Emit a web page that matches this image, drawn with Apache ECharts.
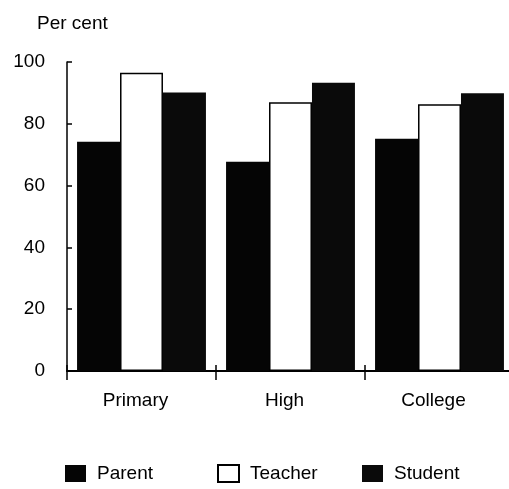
<!DOCTYPE html>
<html>
<head>
<meta charset="utf-8">
<script src="https://cdn.jsdelivr.net/npm/echarts@6/dist/echarts.min.js"></script>
<style>
  html, body { margin: 0; padding: 0; background: #fff; }
  #chart { width: 509px; height: 489px; }
</style>
</head>
<body>
<div id="chart"></div>
<script>
// School levels along the x axis
const categories = ['Primary', 'High', 'College'];
// Share of respondents, per cent
const parentValues = [74.2, 67.7, 75.2];
const teacherValues = [96.5, 87.0, 86.3];
const studentValues = [90.1, 93.3, 89.9];
const yTicks = [0, 20, 40, 60, 80, 100];

const font = 'Liberation Sans, Arial, Helvetica, sans-serif';
const chart = echarts.init(document.getElementById('chart'));

function legendFor(name, left) {
  return {
    data: [{ name: name, icon: 'rect' }],
    left: left,
    top: 459,
    itemWidth: 21,
    itemHeight: 17,
    itemGap: 0,
    textStyle: { fontFamily: font, fontSize: 19, color: '#000', padding: [0, 0, 0, 6] },
    selectedMode: false
  };
}

chart.setOption({
  animation: false,
  backgroundColor: '#fff',
  title: {
    text: 'Per cent',
    left: 32,
    top: 9,
    textStyle: { fontFamily: font, fontSize: 19, fontWeight: 'normal', color: '#000' }
  },
  legend: [
    legendFor('Parent', 60),
    legendFor('Teacher', 212),
    legendFor('Student', 357)
  ],
  // The plot runs a little past the right edge, so the last category is cut off there
  grid: { left: 67, top: 62, width: 447, height: 309, outerBoundsMode: 'none' },
  xAxis: [
    {
      type: 'category',
      data: categories,
      axisLine: { lineStyle: { color: '#000', width: 2 } },
      axisTick: { show: true, length: 9, lineStyle: { color: '#000', width: 1.5 } },
      axisLabel: { fontFamily: font, fontSize: 19, color: '#000', margin: 20, padding: [0, 12, 0, 0] }
    },
    {
      type: 'category',
      data: categories,
      position: 'bottom',
      axisLine: { show: false },
      axisTick: { show: true, inside: true, length: 6, lineStyle: { color: '#000', width: 1.5 } },
      axisLabel: { show: false }
    }
  ],
  yAxis: {
    type: 'value',
    min: 0,
    max: 100,
    interval: 20,
    axisLine: { show: true, lineStyle: { color: '#000', width: 1.5 } },
    axisTick: { show: true, inside: true, length: 5, lineStyle: { color: '#000', width: 1.5 } },
    splitLine: { show: false },
    axisLabel: {
      fontFamily: font, fontSize: 19, color: '#000', margin: 22,
      formatter: v => (yTicks.includes(v) ? String(v) : '')
    }
  },
  series: [
    {
      name: 'Parent', type: 'bar', data: parentValues,
      barGap: '0%', barCategoryGap: '13.5%',
      itemStyle: { color: '#050505' }
    },
    {
      name: 'Teacher', type: 'bar', data: teacherValues,
      barGap: '0%', barCategoryGap: '13.5%',
      itemStyle: { color: '#fff', borderColor: '#000', borderWidth: 1.5 }
    },
    {
      name: 'Student', type: 'bar', data: studentValues,
      barGap: '0%', barCategoryGap: '13.5%',
      itemStyle: { color: '#0a0a0a' }
    }
  ]
});
</script>
</body>
</html>
